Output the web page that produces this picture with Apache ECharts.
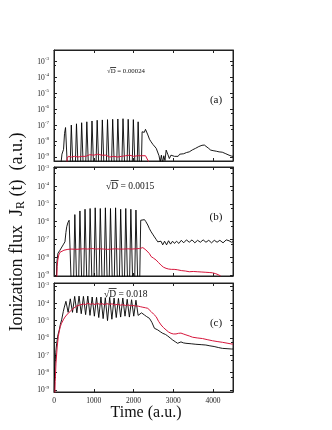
<!DOCTYPE html>
<html><head><meta charset="utf-8">
<script src="https://cdn.jsdelivr.net/npm/echarts@6/dist/echarts.min.js"></script>
<style>html,body{margin:0;padding:0;background:#fff}#c{width:332px;height:430px}</style>
</head><body><div id="c"></div><script>
// ---- data: [time (a.u.), ionization flux (a.u.)] ----
const panelLabels = ['(a)', '(b)', '(c)'];
const noiseLabels = ['0.00024', '0.0015', '0.018'];
const xTicks = [0, 1000, 2000, 3000, 4000];

const aBlack = [[150,1e-10],[200,1.5e-9],[240,3e-9],[265,3e-8],[290,7e-8],[310,9e-8],[330,7e-8],[380,1e-12],
[435,1.0e-7],[455,1.1e-7],[510,1e-12],[565,1.2e-7],[585,1.3e-7],[640,1e-12],[695,1.4e-7],[715,1.5e-7],[770,1e-12],
[825,1.6e-7],[845,1.7e-7],[900,1e-12],[955,1.8e-7],[975,1.9e-7],[1030,1e-12],[1085,2.0e-7],[1105,1.9e-7],[1160,1e-12],
[1215,2.1e-7],[1235,2.0e-7],[1290,1e-12],[1345,2.2e-7],[1365,2.1e-7],[1420,1e-12],[1475,2.3e-7],[1495,2.2e-7],[1550,1e-12],
[1605,2.4e-7],[1625,2.3e-7],[1680,1e-12],[1735,2.5e-7],[1755,2.4e-7],[1810,1e-12],[1865,2.3e-7],[1885,2.2e-7],[1940,1e-12],
[1995,2.2e-7],[2015,2.0e-7],[2070,1e-12],[2115,1.6e-7],[2130,1.5e-7],[2175,1e-12],
[2215,3.8e-8],[2245,5e-8],[2270,3.5e-8],[2300,5.4e-8],[2330,4.5e-8],[2360,2.4e-8],[2400,1.3e-8],[2440,9e-9],[2490,6e-9],
[2525,4.5e-9],[2570,3.5e-9],[2610,2.7e-9],[2640,1.2e-9],[2670,5e-10],[2700,1.3e-9],[2730,4e-10],[2760,1.2e-9],[2790,6e-10],
[2820,2.7e-9],[2860,1.5e-9],[2900,8e-10],[2940,1.3e-9],[2990,1.5e-9],[3030,1.1e-9],[3080,1.4e-9],[3120,1.1e-9],[3160,1.5e-9],
[3200,1.3e-9],[3260,1.6e-9],[3330,1.9e-9],[3400,2.1e-9],[3480,2.8e-9],[3560,3.5e-9],[3640,4.5e-9],[3720,5.4e-9],[3780,5.6e-9],
[3830,4.8e-9],[3880,3.6e-9],[3940,2.7e-9],[4000,2.5e-9],[4080,2.3e-9],[4150,2.1e-9],[4230,2e-9],[4320,1.6e-9],[4400,1.3e-9],
[4460,1.15e-9],[4500,1.1e-9]];

const aRed = [[300,1e-11],[330,8e-10],[360,1.1e-9],[400,1.3e-9],[440,1.0e-9],[480,1.2e-9],[520,1.1e-9],[560,1.3e-9],[600,1.0e-9],
[650,1.2e-9],[700,1.1e-9],[750,1.3e-9],[800,1.1e-9],[850,1.2e-9],[900,1.4e-9],[950,1.1e-9],[1000,1.3e-9],[1050,1.2e-9],
[1100,1.5e-9],[1150,1.2e-9],[1200,1.3e-9],[1250,1.1e-9],[1300,1.3e-9],[1350,1.2e-9],[1400,1.0e-9],[1450,1.2e-9],[1500,1.1e-9],
[1550,1.3e-9],[1600,1.0e-9],[1650,1.2e-9],[1700,1.1e-9],[1750,1.3e-9],[1800,1.2e-9],[1850,1.1e-9],[1900,1.3e-9],[1950,1.2e-9],
[2000,1.1e-9],[2050,1.3e-9],[2100,1.2e-9],[2150,1.4e-9],[2200,1.2e-9],[2250,1.3e-9],[2300,1.2e-9],[2350,1.1e-9],[2380,5e-10]];

const bBlack = [[40,1e-11],[70,5e-9],[100,1.7e-8],[150,2.5e-8],[190,3.2e-8],[230,5e-8],[275,7.4e-8],[300,2.5e-7],[320,5.2e-7],
[350,9e-7],[380,1.2e-6],[410,1.3e-6],[470,1e-12],[524,2.5e-6],[544,2.6e-6],[598,1e-12],[652,4e-6],[672,3.8e-6],[726,1e-12],
[780,5e-6],[800,4.8e-6],[854,1e-12],[908,5.5e-6],[928,5.3e-6],[982,1e-12],[1036,6e-6],[1056,5.7e-6],[1110,1e-12],
[1164,5.5e-6],[1184,5.3e-6],[1238,1e-12],[1292,6e-6],[1312,5.8e-6],[1366,1e-12],[1420,5.5e-6],[1440,5.2e-6],[1494,1e-12],
[1548,6e-6],[1568,5.7e-6],[1622,1e-12],[1676,5e-6],[1696,4.8e-6],[1750,1e-12],[1804,5.5e-6],[1824,5.2e-6],[1878,1e-12],
[1932,5e-6],[1952,4.8e-6],[2006,1e-12],[2060,4.5e-6],[2080,4.3e-6],[2134,1e-12],
[2180,1.2e-6],[2230,1.4e-6],[2275,1.3e-6],[2310,1e-6],[2358,6.5e-7],[2400,4e-7],[2442,2.7e-7],[2480,2e-7],[2525,1.4e-7],
[2570,1e-7],[2608,7.4e-8],[2650,6e-8],[2690,8e-8],[2733,5e-8],[2780,8e-8],[2830,5e-8],[2880,8.5e-8],[2930,5.5e-8],[2980,8e-8],
[3030,6e-8],[3080,8e-8],[3140,6e-8],[3200,9e-8],[3260,6.5e-8],[3330,9.5e-8],[3400,7e-8],[3470,9.5e-8],[3540,6.5e-8],[3610,9e-8],
[3680,7e-8],[3750,9.5e-8],[3820,7e-8],[3890,9e-8],[3960,6.5e-8],[4030,9e-8],[4100,7e-8],[4170,9e-8],[4250,6.5e-8],[4330,9.5e-8],
[4400,8.5e-8],[4460,7e-8],[4500,7.5e-8]];

const bRed = [[60,1e-10],[80,3e-9],[95,7e-9],[120,1.35e-8],[150,1.9e-8],[200,2.3e-8],[250,2.5e-8],[300,2.6e-8],[350,2.8e-8],
[400,2.5e-8],[450,2.9e-8],[500,2.6e-8],[550,2.8e-8],[600,2.5e-8],[650,2.9e-8],[700,2.7e-8],[750,3e-8],[800,2.6e-8],[850,2.9e-8],
[900,2.7e-8],[950,3.1e-8],[1000,2.7e-8],[1050,2.9e-8],[1100,2.6e-8],[1150,3e-8],[1200,2.7e-8],[1250,2.9e-8],[1300,2.6e-8],
[1350,2.8e-8],[1400,2.6e-8],[1450,2.9e-8],[1500,2.7e-8],[1550,3e-8],[1600,2.7e-8],[1650,2.9e-8],[1700,2.6e-8],[1750,2.9e-8],
[1800,2.7e-8],[1850,3e-8],[1900,2.8e-8],[1950,2.9e-8],[2000,2.7e-8],[2050,3e-8],[2100,2.8e-8],[2150,3.1e-8],[2200,3.2e-8],
[2233,3.5e-8],[2270,3e-8],[2310,2.6e-8],[2358,2.2e-8],[2400,1.6e-8],[2442,1.1e-8],[2500,9e-9],[2567,7e-9],[2630,5e-9],
[2692,3.6e-9],[2750,2.8e-9],[2817,2.4e-9],[2880,2.2e-9],[2950,2.1e-9],[3020,2.1e-9],[3100,2e-9],[3200,1.8e-9],[3300,1.7e-9],
[3400,1.55e-9],[3500,1.6e-9],[3600,1.55e-9],[3700,1.5e-9],[3800,1.45e-9],[3900,1.4e-9],[3983,1.35e-9],[4067,1.2e-9],
[4130,1.05e-9],[4190,9e-10]];

const cBlack = [[0,1e-10],[15,1e-8],[25,2.2e-8],[45,1.5e-7],[67,4.9e-7],[100,1.5e-6],[133,2.9e-6],[160,6e-6],[192,1.1e-5],
[233,3.3e-5],[260,6e-5],[300,1.3e-4],[355,3e-5],[410,1.8e-4],[465,3e-5],[520,2.5e-4],[575,2.8e-5],[630,2.6e-4],[685,2.5e-5],
[740,2.5e-4],[795,2.2e-5],[850,2.6e-4],[905,2e-5],[960,2.3e-4],[1015,1.8e-5],[1070,2.2e-4],[1125,1.5e-5],[1180,2.3e-4],
[1235,1.3e-5],[1290,2.1e-4],[1345,1e-5],[1400,2.2e-4],[1455,1.2e-5],[1510,2e-4],[1565,1.5e-5],[1620,1.9e-4],[1675,1.6e-5],
[1730,2e-4],[1785,1.8e-5],[1840,1.7e-4],[1895,1.6e-5],[1950,1.6e-4],[2005,1.8e-5],[2060,1.5e-4],[2115,2e-5],
[2160,2.6e-5],[2200,2.8e-5],[2240,2.3e-5],[2275,2.1e-5],[2330,1.7e-5],[2400,1.35e-5],[2460,8e-6],[2525,3.6e-6],[2570,3.3e-6],
[2608,2.9e-6],[2670,2.3e-6],[2733,1.85e-6],[2800,1.6e-6],[2858,1.3e-6],[2920,1e-6],[2983,7.6e-7],[3050,6e-7],[3108,4.9e-7],
[3150,5.5e-7],[3192,5.9e-7],[3250,5.2e-7],[3317,4.9e-7],[3450,4.6e-7],[3567,4.3e-7],[3700,4.1e-7],[3817,3.9e-7],[3920,3.5e-7],
[4025,3.2e-7],[4130,2.8e-7],[4233,2.5e-7],[4350,2.4e-7],[4458,2.3e-7],[4500,2.3e-7]];

const cRed = [[0,1e-11],[30,3e-9],[50,3.5e-8],[80,3e-7],[108,1.2e-6],[133,2.5e-6],[158,4.5e-6],[190,7e-6],[233,1.1e-5],
[275,1.6e-5],[317,2.1e-5],[380,3e-5],[442,4.1e-5],[500,5.3e-5],[567,6.9e-5],[650,8e-5],[733,9.1e-5],[790,8.5e-5],[850,1e-4],
[910,8.7e-5],[970,9.5e-5],[1030,8.5e-5],[1090,9.8e-5],[1150,8.7e-5],[1210,9.5e-5],[1270,8.3e-5],[1330,9.5e-5],[1400,8.6e-5],
[1460,9.3e-5],[1530,8e-5],[1600,8.8e-5],[1670,7.8e-5],[1733,8.3e-5],[1800,7.5e-5],[1870,8e-5],[1930,7.2e-5],[1983,7.4e-5],
[2050,7e-5],[2120,6.8e-5],[2180,6.3e-5],[2233,5.9e-5],[2300,5.5e-5],[2358,5.1e-5],[2400,4.2e-5],[2442,3.3e-5],[2500,2.4e-5],
[2567,1.7e-5],[2630,9e-6],[2692,5.6e-6],[2750,4e-6],[2817,2.9e-6],[2880,2.2e-6],[2942,1.85e-6],[3000,1.7e-6],[3067,1.7e-6],
[3130,1.85e-6],[3192,1.9e-6],[3250,1.7e-6],[3317,1.5e-6],[3400,1.3e-6],[3483,1.1e-6],[3600,1e-6],[3733,9.2e-7],[3850,8e-7],
[3983,6.9e-7],[4100,6.2e-7],[4233,5.6e-7],[4350,5e-7],[4458,4.5e-7],[4500,4.4e-7]];

const yRangeExp = [[-9.25, -2.3], [-9.05, -2.93], [-9.12, -2.83]];
// ----------------------------------------------------

const SERIF = "'Liberation Serif','DejaVu Serif',serif";
const BLACK = '#000000', RED = '#d6163c';
const gridBoxes = [
  {left: 54, top: 50, width: 179, height: 111},
  {left: 54, top: 167, width: 179, height: 109},
  {left: 54, top: 283, width: 179, height: 109}
];
const blackSets = [aBlack, bBlack, cBlack];
const redSets = [aRed, bRed, cRed];

function yLabel(v) {
  const l = Math.log10(v), e = Math.round(l);
  if (Math.abs(l - e) > 0.01) return '';
  return '{b|10}{s|' + e + '}';
}

const grid = gridBoxes.map(g => Object.assign({show: true, borderColor: '#222', borderWidth: 1, backgroundColor: '#fff'}, g));
const xAxis = [], yAxis = [];
for (let i = 0; i < 3; i++) {
  xAxis.push({
    type: 'value', gridIndex: i, min: 0, max: 4500, interval: 1000, position: 'bottom',
    axisLine: {show: true, onZero: false, lineStyle: {color: '#222', width: 1}},
    axisTick: {show: true, inside: true, length: 3, lineStyle: {color: '#222'}},
    splitLine: {show: false},
    axisLabel: {show: i === 2, fontFamily: SERIF, fontSize: 7.5, color: '#222', margin: 5,
      formatter: v => xTicks.indexOf(v) >= 0 ? String(v) : ''}
  });
}
for (let i = 0; i < 3; i++) {
  xAxis.push({
    type: 'value', gridIndex: i, min: 0, max: 4500, interval: 1000, position: 'top',
    axisLine: {show: true, onZero: false, lineStyle: {color: '#222', width: 1}},
    axisTick: {show: true, inside: true, length: 3, lineStyle: {color: '#222'}},
    splitLine: {show: false}, axisLabel: {show: false}
  });
}
for (let i = 0; i < 3; i++) {
  yAxis.push({
    type: 'log', logBase: 10, gridIndex: i, position: 'left',
    min: Math.pow(10, yRangeExp[i][0]), max: Math.pow(10, yRangeExp[i][1]), splitNumber: 7,
    axisLine: {show: true, onZero: false, lineStyle: {color: '#222', width: 1}},
    axisTick: {show: true, inside: true, length: 3, lineStyle: {color: '#222'}},
    minorTick: {show: true, splitNumber: 2, length: 2, lineStyle: {color: '#222'}},
    splitLine: {show: false},
    axisLabel: {show: true, margin: 5, formatter: yLabel, showMinLabel: false, showMaxLabel: false,
      rich: {
        b: {fontFamily: SERIF, fontSize: 7.5, color: '#222', lineHeight: 9, verticalAlign: 'bottom'},
        s: {fontFamily: SERIF, fontSize: 5, color: '#222', lineHeight: 9, verticalAlign: 'top'}
      }}
  });
}
for (let i = 0; i < 3; i++) {
  yAxis.push({
    type: 'log', logBase: 10, gridIndex: i, position: 'right',
    min: Math.pow(10, yRangeExp[i][0]), max: Math.pow(10, yRangeExp[i][1]), splitNumber: 7,
    axisLine: {show: true, onZero: false, lineStyle: {color: '#222', width: 1}},
    axisTick: {show: true, inside: true, length: 3, lineStyle: {color: '#222'}},
    minorTick: {show: true, splitNumber: 2, length: 2, lineStyle: {color: '#222'}},
    splitLine: {show: false}, axisLabel: {show: false}
  });
}

const series = [];
for (let i = 0; i < 3; i++) {
  series.push({type: 'line', xAxisIndex: i, yAxisIndex: i, data: blackSets[i], showSymbol: false, clip: true,
    lineStyle: {color: BLACK, width: 0.9}, z: 3});
  series.push({type: 'line', xAxisIndex: i, yAxisIndex: i, data: redSets[i], showSymbol: false, clip: true,
    lineStyle: {color: RED, width: 1}, z: 4});
}

// text measuring for the overline over D in "√D"
const mctx = document.createElement('canvas').getContext('2d');
function tw(txt, font) { mctx.font = font; return mctx.measureText(txt).width; }

const graphic = [];
const noiseX = [107, 106, 104];
const noiseY = [71, 186, 294];
const noiseSize = [6.8, 9.5, 9.5];
const tagY = [100, 217, 323];
for (let i = 0; i < 3; i++) {
  const font = noiseSize[i] + 'px ' + SERIF;
  graphic.push({type: 'text', x: noiseX[i], y: noiseY[i], silent: true,
    style: {text: '\u221AD = ' + noiseLabels[i], font: font, fill: '#111', verticalAlign: 'middle'}});
  const w0 = tw('\u221A', font), w1 = tw('\u221AD', font);
  const ly = Math.round(noiseY[i] - noiseSize[i] * 0.5) - 0.5;
  graphic.push({type: 'line', silent: true,
    shape: {x1: noiseX[i] + w0 - 0.5, y1: ly, x2: noiseX[i] + w1 + 0.5, y2: ly},
    style: {stroke: '#111', lineWidth: 0.8}});
  graphic.push({type: 'text', x: 216, y: tagY[i], silent: true,
    style: {text: panelLabels[i], font: '11px ' + SERIF, fill: '#111', align: 'center', verticalAlign: 'middle'}});
}
graphic.push({type: 'text', x: 146, y: 413, silent: true,
  style: {text: 'Time (a.u.)', font: '16px ' + SERIF, fill: '#111', align: 'center', verticalAlign: 'middle'}});
graphic.push({type: 'text', x: 17, y: 232, rotation: Math.PI / 2, silent: true,
  style: {text: '{n|Ionization flux  J}{r|R}{n| (t)  (a.u.)}', align: 'center', verticalAlign: 'middle',
    rich: {
      n: {font: '18px ' + SERIF, fill: '#111', lineHeight: 20, verticalAlign: 'middle'},
      r: {font: '12px ' + SERIF, fill: '#111', lineHeight: 20, verticalAlign: 'bottom'}
    }}});

const chart = echarts.init(document.getElementById('c'), null, {renderer: 'canvas'});
chart.setOption({animation: false, backgroundColor: '#fff', grid, xAxis, yAxis, series, graphic});
</script></body></html>
